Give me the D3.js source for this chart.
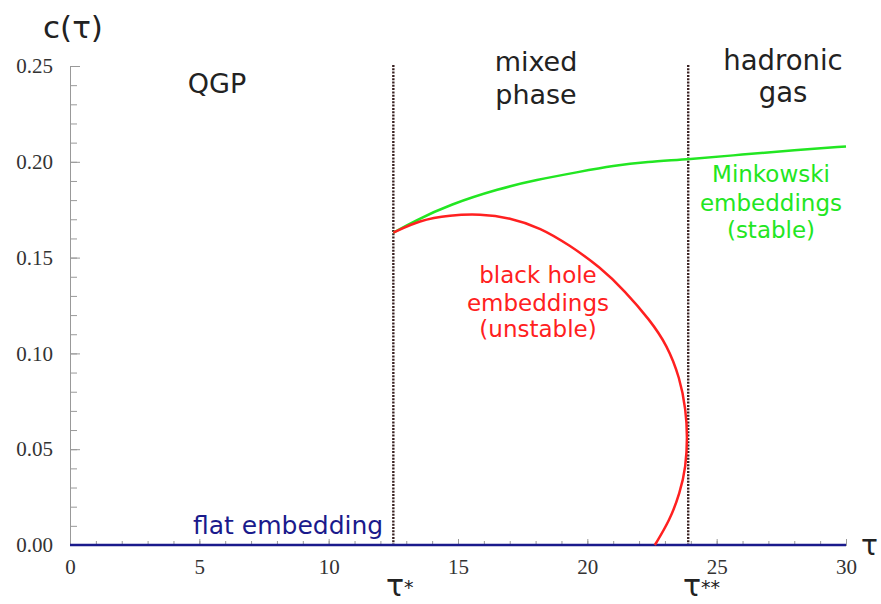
<!DOCTYPE html>
<html><head><meta charset="utf-8">
<script src="https://cdn.jsdelivr.net/npm/d3@7"></script>
<style>body{margin:0;background:#fff}svg{display:block}</style>
</head><body>
<svg id="c" width="881" height="604"></svg>
<script>
// ---- data ----
const xTicks = [0, 5, 10, 15, 20, 25, 30];
const yTicks = [0.00, 0.05, 0.10, 0.15, 0.20, 0.25];
const tauStar = 12.5;
const tauStar2 = 23.9;
// Minkowski embeddings (stable)
const greenTau = [12.5, 13.3, 14.7, 16.6, 18.0, 19.7, 21.0, 22.3, 23.9, 26.0, 28.0, 30.0];
const greenC   = [0.163, 0.169, 0.1778, 0.186, 0.1905, 0.1948, 0.198, 0.200, 0.2013, 0.2038, 0.206, 0.208];
// black hole embeddings (unstable)
const redTau = [12.5, 13.5, 14.7, 15.85, 17.0, 18.2, 19.3, 20.49, 21.45, 22.42, 23.08, 23.58, 23.81, 23.87, 23.81, 23.58, 23.19, 22.61];
const redC   = [0.163, 0.1695, 0.1722, 0.1728, 0.1709, 0.1655, 0.1566, 0.1451, 0.1326, 0.1174, 0.1044, 0.0872, 0.0705, 0.0564, 0.0407, 0.0271, 0.013, 0.0];
// flat embedding
const flatTau = [0, 30];
const flatC = [0, 0];

// ---- drawing ----
const svg = d3.select("#c");
const x = d3.scaleLinear().domain([0, 30]).range([70, 846]);
const y = d3.scaleLinear().domain([0, 0.25]).range([545, 66]);
const sans = "'DejaVu Sans', Verdana, sans-serif";
const serif = "'Liberation Serif', 'DejaVu Serif', serif";

// y axis minor ticks
const yMinor = d3.range(0, 0.2501, 0.01);
svg.append("g").attr("transform", "translate(70,0)")
  .call(d3.axisLeft(y).tickValues(yMinor).tickSize(-7).tickFormat(""))
  .call(g => g.selectAll("line,path").attr("stroke", "#999"));
// y axis major
svg.append("g").attr("transform", "translate(70,0)")
  .call(d3.axisLeft(y).tickValues(yTicks).tickSizeInner(-10).tickSizeOuter(0).tickPadding(17).tickFormat(d3.format(".2f")))
  .attr("font-family", serif).attr("font-size", 21)
  .call(g => g.selectAll("line,path").attr("stroke", "#999"))
  .call(g => g.selectAll("text").style("font-family", serif).style("font-size", "21px").attr("fill", "#333"));

// x axis minor ticks
const xMinor = d3.range(0, 30.01, 1);
svg.append("g").attr("transform", "translate(0,545)")
  .call(d3.axisBottom(x).tickValues(xMinor).tickSize(-4).tickFormat(""))
  .call(g => g.selectAll("line,path").attr("stroke", "#999"));
svg.append("g").attr("transform", "translate(0,545)")
  .call(d3.axisBottom(x).tickValues(xTicks).tickSizeInner(-6).tickSizeOuter(0).tickPadding(14))
  .attr("font-family", serif).attr("font-size", 21)
  .call(g => g.selectAll("line,path").attr("stroke", "#999"))
  .call(g => g.selectAll("text").style("font-family", serif).style("font-size", "21px").attr("fill", "#333"));

// dotted phase boundaries
[tauStar, tauStar2].forEach(t => {
  svg.append("line")
    .attr("x1", x(t)).attr("x2", x(t)).attr("y1", y(0.25) - 1).attr("y2", y(0))
    .attr("stroke", "#3a2222").attr("stroke-width", 2.4).attr("stroke-dasharray", "2,1.3");
});

const line = d3.line().x(d => x(d[0])).y(d => y(d[1])).curve(d3.curveBasis);

svg.append("path").datum(flatTau.map((t, i) => [t, flatC[i]]))
  .attr("d", d3.line().x(d => x(d[0])).y(d => y(d[1])))
  .attr("fill", "none").attr("stroke", "#1a1a8c").attr("stroke-width", 2.5);

svg.append("path").datum(greenTau.map((t, i) => [t, greenC[i]]))
  .attr("d", line).attr("fill", "none").attr("stroke", "#22e622").attr("stroke-width", 2.5);

svg.append("path").datum(redTau.map((t, i) => [t, redC[i]]))
  .attr("d", line).attr("fill", "none").attr("stroke", "#ff2020").attr("stroke-width", 2.5);

// texts
function txt(xp, yp, s, size, fill, anchor, fam) {
  return svg.append("text").attr("x", xp).attr("y", yp).text(s)
    .style("font-family", fam || sans).style("font-size", size + "px").attr("fill", fill)
    .attr("text-anchor", anchor || "middle");
}
txt(73, 38, "c(τ)", 31, "#222");
txt(217, 93, "QGP", 27, "#222");
txt(536, 71, "mixed", 27, "#222");
txt(536, 104, "phase", 27, "#222");
txt(783, 70, "hadronic", 27.5, "#222");
txt(783, 102, "gas", 27.5, "#222");

txt(771, 182, "Minkowski", 23, "#22e622");
txt(771, 211, "embeddings", 23, "#22e622");
txt(771, 238, "(stable)", 23, "#22e622");

txt(538, 283, "black hole", 23, "#ff2020");
txt(538, 311, "embeddings", 23, "#ff2020");
txt(538, 337, "(unstable)", 23, "#ff2020");

txt(193, 534, "flat embedding", 25, "#1a1a8c", "start");

txt(386, 596, "τ", 30, "#222", "start");
txt(404, 594, "*", 19, "#222", "start");
txt(683, 596, "τ", 30, "#222", "start");
txt(701, 594, "**", 19, "#222", "start");
txt(861, 555, "τ", 28, "#222", "start");
</script>
</body></html>
